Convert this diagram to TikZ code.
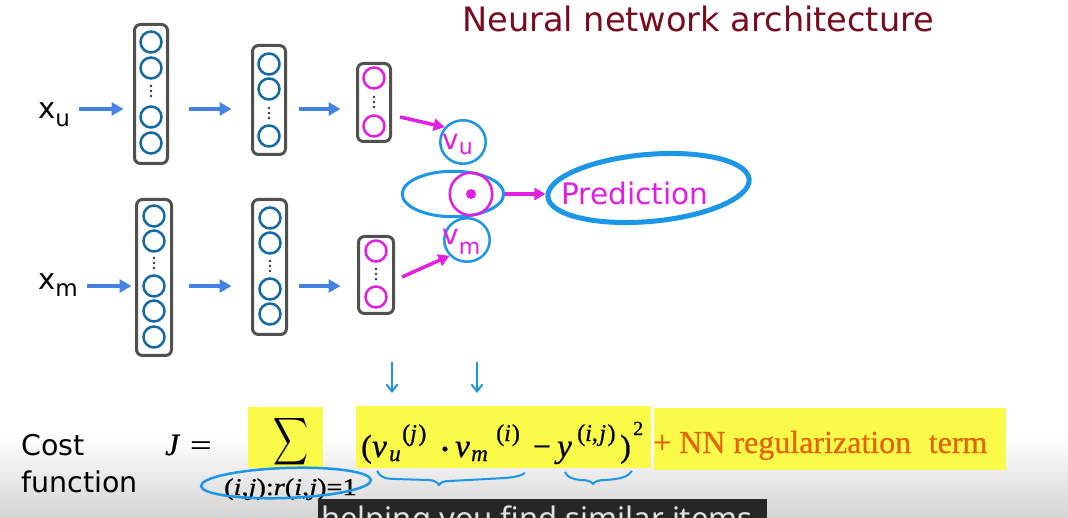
\RequirePackage{fix-cm}
\documentclass[tikz,border=0pt]{standalone}
\usepackage{fontspec}
\usepackage{graphicx}
\usetikzlibrary{arrows.meta,calc,shapes.geometric}
\newfontfamily\dv{DejaVu Sans}
\newfontfamily\nt{Noto Sans}
\newfontfamily\ls[FakeBold=0.7]{Liberation Serif}
\newcommand\fsz[1]{\fontsize{#1}{#1}\selectfont}
\definecolor{boxgray}{RGB}{80,80,80}
\definecolor{neuronblue}{RGB}{20,105,165}
\definecolor{mag}{RGB}{225,30,225}
\definecolor{arrowblue}{RGB}{70,130,230}
\definecolor{handblue}{RGB}{28,150,230}
\definecolor{titlered}{RGB}{122,10,30}
\definecolor{hl}{RGB}{250,250,72}
\definecolor{regorange}{RGB}{228,100,10}
\definecolor{subbg}{RGB}{38,38,38}
\definecolor{subtext}{RGB}{225,225,225}
\begin{document}
\begin{tikzpicture}[x=1pt,y=-1pt,
  netbox/.style={draw=boxgray, line width=3pt, rounded corners=6pt, inner sep=0pt},
  neuron/.style={circle, draw=neuronblue, line width=2.5pt, minimum size=21pt, inner sep=0pt},
  pneuron/.style={neuron, draw=mag},
  barrow/.style={draw=arrowblue, line width=4pt, -{Triangle[length=12pt,width=13pt]}},
  parrow/.style={draw=mag, line width=3.5pt, -{Triangle[length=11pt,width=12pt]}},
  hand/.style={draw=handblue, line width=2.5pt},
  harrow/.style={draw=handblue, line width=2pt, -{Straight Barb[length=7pt,width=11pt]}},
  lbl/.style={anchor=base west, inner sep=0pt},
  cbl/.style={anchor=base, inner sep=0pt},
  dotcol/.style={fill=black!80}
]
\clip (0,0) rectangle (1068,518);
\useasboundingbox (0,0) rectangle (1068,518);
\fill[white] (0,0) rectangle (1068,518);
\shade[top color=white, bottom color={rgb,255:red,212;green,212;blue,212}] (0,436) rectangle (1068,518);

% title
\node[lbl, text=titlered] (title) at (462,32) {\dv\fsz{33.6}Neural network architecture};

% ---------- user network ----------
\node[lbl] (xu) at (38,119) {\dv\fsz{29}x\raisebox{-8pt}{\fsz{23}u}};
\node[netbox, minimum width=33pt, minimum height=139pt] (t1) at (151,94) {};
\node[netbox, minimum width=33pt, minimum height=109pt] (t2) at (269,100) {};
\node[netbox, minimum width=33pt, minimum height=78pt] (t3) at (374,102.5) {};
\node[neuron] (t1a) at (151,42) {};
\node[neuron] (t1b) at (151,68) {};
\node[neuron] (t1c) at (151,117) {};
\node[neuron] (t1d) at (151,143) {};
\node[neuron] (t2a) at (269,64) {};
\node[neuron] (t2b) at (269,89) {};
\node[neuron] (t2c) at (269,136) {};
\node[pneuron] (t3a) at (374,78) {};
\node[pneuron] (t3b) at (374,126) {};
\foreach \x/\y in {151/91, 269/113, 374/102}{
  \foreach \d in {-5,0,5} \fill[dotcol] (\x,\y+\d) circle (1.3);
}
\coordinate (rowU) at (0,109);
\draw[barrow, shorten <=9pt, shorten >=9.5pt] (xu.east |- rowU) -- (t1.west |- rowU);
\draw[barrow, shorten <=20pt, shorten >=19.5pt] (t1.east |- rowU) -- (t2.west |- rowU);
\draw[barrow, shorten <=11.5pt, shorten >=15.5pt] (t2.east |- rowU) -- (t3.west |- rowU);

% ---------- movie network ----------
\node[lbl] (xm) at (38,290) {\dv\fsz{29}x\raisebox{-7pt}{\fsz{23}m}};
\node[netbox, minimum width=35pt, minimum height=156pt] (b1) at (154,277.5) {};
\node[netbox, minimum width=34pt, minimum height=135pt] (b2) at (269.5,267) {};
\node[netbox, minimum width=35pt, minimum height=77pt] (b3) at (376,275) {};
\node[neuron] (b1a) at (154,216) {};
\node[neuron] (b1b) at (154,241) {};
\node[neuron] (b1c) at (154,286) {};
\node[neuron] (b1d) at (154,311) {};
\node[neuron] (b1e) at (154,337) {};
\node[neuron] (b2a) at (270,218) {};
\node[neuron] (b2b) at (270,243) {};
\node[neuron] (b2c) at (270,289) {};
\node[neuron] (b2d) at (270,314) {};
\node[pneuron] (b3a) at (376,251) {};
\node[pneuron] (b3b) at (376,297) {};
\foreach \x/\y in {154/263, 270/266, 376/274}{
  \foreach \d in {-5,0,5} \fill[dotcol] (\x,\y+\d) circle (1.3);
}
\coordinate (rowM) at (0,286);
\draw[barrow, shorten <=9.5pt, shorten >=3.5pt] (xm.east |- rowM) -- (b1.west |- rowM);
\draw[barrow, shorten <=15.5pt, shorten >=19.5pt] (b1.east |- rowM) -- (b2.west |- rowM);
\draw[barrow, shorten <=10.5pt, shorten >=16.5pt] (b2.east |- rowM) -- (b3.west |- rowM);

% ---------- product ----------
\node[ellipse, hand, line width=3pt, minimum width=101.5pt, minimum height=45.5pt, inner sep=0pt] (mid) at (453,194) {};
\node[ellipse, hand, minimum width=45.5pt, minimum height=43.5pt, inner sep=0pt] (vu) at (463,142) {};
\node[ellipse, hand, minimum width=45.5pt, minimum height=43.5pt, inner sep=0pt] (vm) at (467,240) {};
\node[circle, draw=mag, line width=2.5pt, minimum size=42.5pt, inner sep=0pt] (odot) at (471,194) {};
\fill[mag] (odot.center) circle (5);
\node[lbl, text=mag] (vut) at (442,150) {\dv\fsz{28}v\raisebox{-5pt}{\fsz{22}u}};
\node[lbl, text=mag] (vmt) at (442,245) {\dv\fsz{28}v\raisebox{-10pt}{\fsz{22}m}};
\draw[parrow] ($(t3.east)+(8,14.5)$) -- (vu.141);
\draw[parrow] ($(b3.east)+(7,2)$) -- (vm.222);

\node[ellipse, hand, line width=5pt, minimum width=202pt, minimum height=67pt, inner sep=0pt, rotate=5] (pred) at (648.5,188) {};
\node[lbl, text=mag] (predt) at (561,205) {\dv\fsz{29.6}Prediction};
\draw[parrow] (mid.east) -- (mid.east -| pred.west);

% ---------- cost function ----------
\node[lbl] (cost) at (21,455) {\dv\fsz{28.5}Cost};
\node[lbl] (func) at (21,492) {\dv\fsz{28.5}function};
\node[lbl] (J) at (165,455) {\ls\fsz{31}\textit{J}};
\node[lbl] (eq) at (190,455) {\ls\fsz{30}\scalebox{1.25}[1]{=}};

\fill[hl] (248,407) rectangle (323,468);
\fill[hl] (356,406) rectangle (651,468);
\fill[hl] (654,408) rectangle (1006,470);

\node[inner sep=0pt] (sum) at (290.5,441.5) {\resizebox*{35pt}{53pt}{$\displaystyle\sum$}};
\node[lbl] (sub) at (224,495) {\ls\fsz{24}\scalebox{1.18}[1]{(\textit{i},\textit{j}):\textit{r}(\textit{i},\textit{j})=1}};
\node[ellipse, hand, minimum width=170pt, minimum height=30pt, inner sep=0pt, rotate=2] (subell) at (286,483) {};

% formula pieces
\node[lbl] (fa) at (361,457) {\ls\fsz{32}(};
\node[lbl] (fb) at (372,457) {\ls\fsz{33}\textit{v}};
\node[lbl] (fc) at (389,461) {\ls\fsz{23}\textit{u}};
\node[lbl] (fd) at (402,441) {\ls\fsz{24}(\textit{j}\kern1.5pt)};
\fill (445,449) circle (2.6);
\node[lbl] (ff) at (455,457) {\ls\fsz{33}\textit{v}};
\node[lbl] (fg) at (471,461) {\ls\fsz{23}\textit{m}};
\node[lbl] (fh) at (496,441) {\ls\fsz{24}(\textit{i}\kern1pt)};
\node[cbl] (fi) at (542,457) {\ls\fsz{32}−};
\node[lbl] (fj) at (557,457) {\ls\fsz{33}\textit{y}};
\node[lbl] (fk) at (577,441) {\ls\fsz{24}(\textit{i},\kern1.5pt\textit{j}\kern1.5pt)};
\node[lbl] (fl) at (620,457) {\ls\fsz{32})};
\node[lbl] (fm) at (633,435) {\ls\fsz{20}2};

\node[lbl, text=regorange] (reg) at (653,453) {\ls\fsz{32}+ NN regularization\hspace{0.3em} term};

\coordinate (d1a) at (392,362);
\coordinate (d1b) at (392,393);
\coordinate (d2a) at (477,362);
\coordinate (d2b) at (477,393);
\draw[harrow] (d1a) -- (d1b);
\draw[harrow] (d2a) -- (d2b);

\draw[hand, line width=2pt] (377,471) .. controls (380,477) and (385,479) .. (395,479) -- (428,480) .. controls (434,480) and (437,482) .. (439,485) .. controls (441,482) and (444,481) .. (450,481) -- (505,478) .. controls (515,477) and (521,476) .. (525,473);
\draw[hand, line width=2pt] (565,472) .. controls (567,477) and (572,479) .. (580,480) .. controls (587,480) and (591,481) .. (593,484) .. controls (595,481) and (599,480) .. (606,480) .. controls (620,479) and (628,477) .. (632,471);

% ---------- subtitle ----------
\fill[subbg] (318,499) rectangle (767,518);
\node[lbl, text=subtext] (subt) at (321,529) {\nt\fsz{31}helping you find similar items};
\end{tikzpicture}
\end{document}
